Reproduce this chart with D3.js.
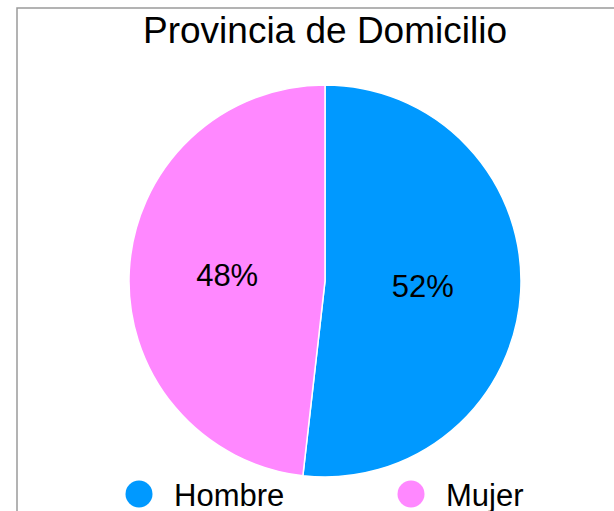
<!DOCTYPE html>
<head>
  <meta charset="utf-8">
  <title>Provincia de Domicilio</title>
  <script src="https://d3js.org/d3.v7.min.js"></script>
  <style>
    body { margin: 0; background: #fff; }
    text { font-family: "Liberation Sans", Arial, sans-serif; fill: #000; }
  </style>
</head>
<body>
<script>

  let width = 614;
  let height = 511;

  // data
  let categories = ["Hombre", "Mujer"];
  let values = [51.8, 48.2];
  let labels = ["52%", "48%"];
  let colors = ["#0099ff", "#ff88ff"];

  let svg = d3.select("body").append("svg")
      .attr("width", width)
      .attr("height", height);

  // frame, clipped by the window on the right and bottom
  svg.append("rect")
      .attr("x", 17)
      .attr("y", 8)
      .attr("width", 700)
      .attr("height", 600)
      .style("fill", "none")
      .style("stroke", "#9a9a9a")
      .style("stroke-width", "1.5px");

  svg.append("text")
      .text("Provincia de Domicilio")
      .attr("x", 325)
      .attr("y", 43)
      .attr("text-anchor", "middle")
      .attr("font-size", "37px");

  let radius = 196;
  let pie_g = svg.append("g")
      .attr("transform", "translate(325,281)");

  let pie = d3.pie().sort(null).value(function(d){ return d; });
  let arc = d3.arc().innerRadius(0).outerRadius(radius);

  let arcs = pie(values);

  pie_g.selectAll("path")
      .data(arcs)
      .enter()
      .append("path")
      .attr("d", arc)
      .style("fill", function(d, i){ return colors[i]; })
      .style("stroke", "#fff")
      .style("stroke-width", "1.5px");

  // labels sit at the arc centroid (half radius)
  pie_g.selectAll("text")
      .data(arcs)
      .enter()
      .append("text")
      .attr("x", function(d){ return arc.centroid(d)[0]; })
      .attr("y", function(d){ return arc.centroid(d)[1]; })
      .attr("dy", "0.35em")
      .attr("text-anchor", "middle")
      .attr("font-size", "31px")
      .text(function(d, i){ return labels[i]; });

  // legend
  let legend_x = d3.scalePoint().domain(categories).range([139, 411]);

  let legend = svg.selectAll(".legend")
      .data(categories)
      .enter()
      .append("g")
      .attr("class", "legend")
      .attr("transform", function(d){ return "translate(" + legend_x(d) + ",494)"; });

  legend.append("circle")
      .attr("r", 13.5)
      .style("fill", function(d, i){ return colors[i]; });

  legend.append("text")
      .attr("x", 35)
      .attr("y", 12)
      .attr("font-size", "31px")
      .text(function(d){ return d; });

</script>
</body>
